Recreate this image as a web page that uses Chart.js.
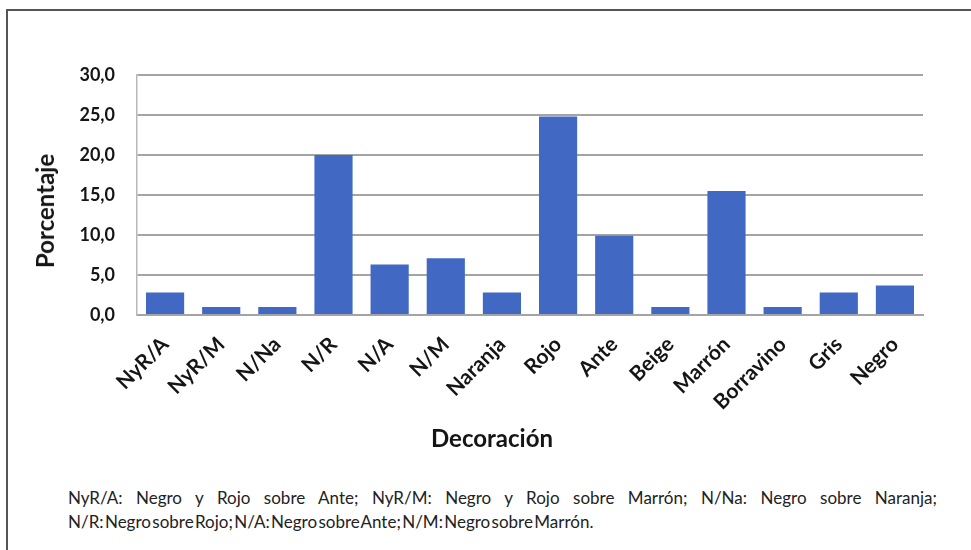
<!DOCTYPE html>
<html>
<head>
<meta charset="utf-8">
<script src="https://cdn.jsdelivr.net/npm/chart.js@4"></script>
<style>
  html, body { margin: 0; padding: 0; background: #fff; }
  body { width: 971px; height: 550px; position: relative; overflow: hidden; font-family: Lato, "Open Sans", sans-serif; }
  #frame { position: absolute; left: 6px; top: 9px; width: 980px; height: 560px; border-left: 2px solid #555; border-top: 2px solid #555; }
  #wrap { position: absolute; left: 0; top: 0; width: 971px; height: 460px; }
  .note { position: absolute; left: 68px; font-size: 17px; line-height: 24px; color: #222; white-space: nowrap; }
  #note1 { top: 486px; width: 869px; white-space: normal; text-align: justify; text-align-last: justify; }
  #note2 { top: 510px; word-spacing: -3px; }
  .ttl { position: absolute; font-weight: bold; font-size: 24px; color: #151515; white-space: nowrap; line-height: 28px; }
  #xt { left: 492px; top: 438px; transform: translate(-50%, -50%); }
  #yt { left: 45px; top: 211px; transform: translate(-50%, -50%) rotate(-90deg); }
</style>
</head>
<body>
<div id="frame"></div>
<div id="wrap"><canvas id="c"></canvas></div>
<div id="xt" class="ttl"></div>
<div id="yt" class="ttl"></div>
<div id="note1" class="note">NyR/A: Negro y Rojo sobre Ante; NyR/M: Negro y Rojo sobre Marrón; N/Na: Negro sobre Naranja;</div>
<div id="note2" class="note">N/R: Negro sobre Rojo; N/A: Negro sobre Ante; N/M: Negro sobre Marrón.</div>
<script>
const categories = ['NyR/A', 'NyR/M', 'N/Na', 'N/R', 'N/A', 'N/M', 'Naranja', 'Rojo', 'Ante', 'Beige', 'Marrón', 'Borravino', 'Gris', 'Negro'];
const percentages = [2.8, 1.0, 1.0, 20.0, 6.3, 7.1, 2.8, 24.8, 9.9, 1.0, 15.5, 1.0, 2.8, 3.7];
const yTicks = [0, 5, 10, 15, 20, 25, 30];
const yTitle = 'Porcentaje';
const xTitle = 'Decoración';

document.getElementById('xt').textContent = xTitle;
document.getElementById('yt').textContent = yTitle;

const FONT = 'Lato, "Open Sans", sans-serif';

new Chart(document.getElementById('c'), {
  type: 'bar',
  data: {
    labels: categories,
    datasets: [{
      data: percentages,
      backgroundColor: '#4169c4',
      borderWidth: 0,
      barPercentage: 0.68,
      categoryPercentage: 1.0
    }]
  },
  options: {
    responsive: true,
    maintainAspectRatio: false,
    animation: false,
    devicePixelRatio: 1,
    layout: { padding: { top: 75, right: 48, left: 0, bottom: 0 } },
    plugins: { legend: { display: false }, tooltip: { enabled: false } },
    scales: {
      x: {
        grid: { display: false, drawTicks: false },
        border: { display: true, color: '#a4a4a4', width: 2 },
        ticks: {
          color: '#151515',
          font: { family: FONT, size: 21, weight: 'bold' },
          minRotation: 45, maxRotation: 45,
          padding: 17,
          autoSkip: false
        },
        afterFit: (s) => { s.height = 145; }
      },
      y: {
        min: 0, max: 30,
        afterBuildTicks: (s) => { s.ticks = yTicks.map(v => ({ value: v })); },
        grid: { color: '#a4a4a4', lineWidth: 2, drawTicks: false },
        border: { display: true, color: '#b8b8b8', width: 1.5 },
        ticks: {
          color: '#151515',
          font: { family: FONT, size: 18, weight: 'bold' },
          padding: 22,
          callback: (v) => v.toFixed(1).replace('.', ',')
        },
        afterFit: (s) => { s.width = 137; }
      }
    }
  }
});
</script>
</body>
</html>
